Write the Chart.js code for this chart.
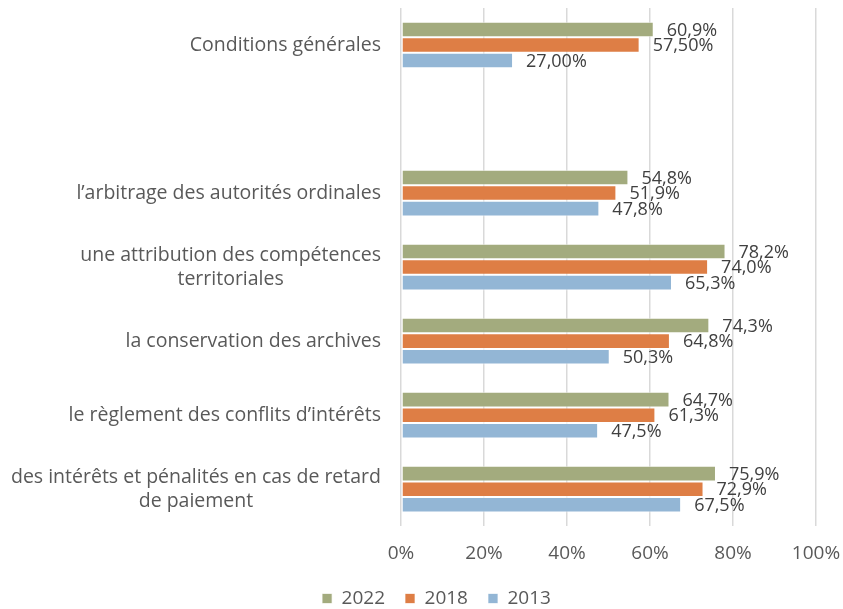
<!DOCTYPE html>
<html>
<head>
<meta charset="utf-8">
<script src="https://cdn.jsdelivr.net/npm/chart.js@4"></script>
<style>
  body { margin: 0; background: #fff; }
  #wrap { width: 843px; height: 609px; }
</style>
</head>
<body>
<div id="wrap"><canvas id="chart" width="843" height="609"></canvas></div>
<script>
const categories = [
  "Conditions générales",
  "",
  "l’arbitrage des autorités ordinales",
  ["une attribution des compétences", "territoriales"],
  "la conservation des archives",
  "le règlement des conflits d’intérêts",
  ["des intérêts et pénalités en cas de retard", "de paiement"]
];
const values2022 = [60.9, null, 54.8, 78.2, 74.3, 64.7, 75.9];
const values2018 = [57.5, null, 51.9, 74.0, 64.8, 61.3, 72.9];
const values2013 = [27.0, null, 47.8, 65.3, 50.3, 47.5, 67.5];
// number of decimals shown in each label
const decimals2022 = [1, 0, 1, 1, 1, 1, 1];
const decimals2018 = [2, 0, 1, 1, 1, 1, 1];
const decimals2013 = [2, 0, 1, 1, 1, 1, 1];
const xTicks = [0, 20, 40, 60, 80, 100];

const FONT = "'Open Sans', sans-serif";
const textGray = "#595959";

function fmt(v, d) {
  return v.toFixed(d).replace(".", ",") + "%";
}

// y labels: right aligned block, lines centered inside it
const yLabelPlugin = {
  id: "yLabels",
  afterDraw(chart) {
    const ctx = chart.ctx;
    const y = chart.scales.y;
    ctx.save();
    ctx.font = "19.5px " + FONT;
    ctx.fillStyle = textGray;
    ctx.textBaseline = "middle";
    ctx.textAlign = "center";
    const right = chart.chartArea.left - 20;
    const lh = 24;
    categories.forEach((lab, i) => {
      const lines = Array.isArray(lab) ? lab : [lab];
      const w = Math.max(...lines.map(l => ctx.measureText(l).width));
      const cy = y.getPixelForValue(i);
      const cx = right - w / 2;
      lines.forEach((l, k) => {
        ctx.fillText(l, cx, cy + (k - (lines.length - 1) / 2) * lh);
      });
    });
    ctx.restore();
  }
};

const valueLabelPlugin = {
  id: "valueLabels",
  afterDatasetsDraw(chart) {
    const ctx = chart.ctx;
    ctx.save();
    ctx.font = "18px " + FONT;
    ctx.fillStyle = "#404040";
    ctx.textBaseline = "middle";
    ctx.textAlign = "left";
    chart.data.datasets.forEach((ds, di) => {
      const meta = chart.getDatasetMeta(di);
      meta.data.forEach((bar, i) => {
        const v = ds.data[i];
        if (v == null) return;
        ctx.fillText(fmt(v, ds.decimals[i]), bar.x + 13, bar.y + 1);
      });
    });
    ctx.restore();
  }
};

// legend in the original sits a bit right of the canvas centre
const legendShift = {
  id: "legendShift",
  afterLayout(chart) {
    chart.legend.left += 15;
    chart.legend.right += 15;
  }
};

new Chart(document.getElementById("chart"), {
  type: "bar",
  data: {
    labels: categories,
    datasets: [
      { label: "2022", data: values2022, decimals: decimals2022, backgroundColor: "#A3AB7E" },
      { label: "2018", data: values2018, decimals: decimals2018, backgroundColor: "#DE7E45" },
      { label: "2013", data: values2013, decimals: decimals2013, backgroundColor: "#93B6D5" }
    ]
  },
  options: {
    indexAxis: "y",
    responsive: false,
    animation: false,
    devicePixelRatio: 1,
    layout: { padding: { top: 8, right: 0, left: 0, bottom: -9 } },
    datasets: {
      bar: {
        categoryPercentage: 0.63,
        barPercentage: 1,
        borderWidth: 1,
        borderColor: "rgba(255,255,255,0.7)",
        borderSkipped: false
      }
    },
    scales: {
      x: {
        min: 0,
        max: 100,
        afterBuildTicks(scale) {
          scale.ticks = xTicks.map(v => ({ value: v }));
        },
        afterFit(scale) {
          scale.height -= 12;
          scale.paddingRight = 27;
        },
        grid: { color: "#D9D9D9", lineWidth: 1.5, drawTicks: false },
        border: { display: false },
        ticks: {
          padding: 16,
          color: textGray,
          font: { family: FONT, size: 19 },
          callback: v => v + "%"
        }
      },
      y: {
        grid: { display: false },
        border: { display: false },
        ticks: { display: false },
        afterFit(scale) { scale.width = 401; }
      }
    },
    plugins: {
      legend: {
        position: "bottom",
        labels: {
          boxWidth: 10,
          boxHeight: 10,
          padding: 20,
          color: textGray,
          font: { family: FONT, size: 19 }
        }
      },
      tooltip: { enabled: false }
    }
  },
  plugins: [yLabelPlugin, valueLabelPlugin, legendShift]
});
</script>
</body>
</html>
